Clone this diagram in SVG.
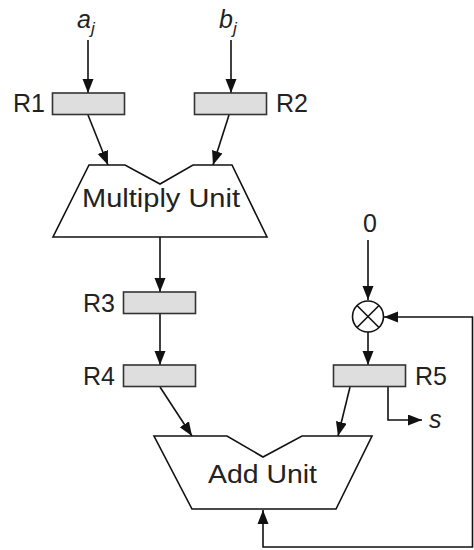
<svg xmlns="http://www.w3.org/2000/svg" width="474" height="550" viewBox="0 0 474 550">
<style>
text{font-family:"Liberation Sans",Arial,sans-serif;fill:#222}
.lbl{font-size:25px}
.reg{fill:#dedede;stroke:#333;stroke-width:1.6}
.unit{fill:#fff;stroke:#111;stroke-width:1.6;stroke-linejoin:miter}
.wire{fill:none;stroke:#111;stroke-width:1.6}
.arr{marker-end:url(#ah)}
.it{font-style:italic}
</style>
<defs>
<marker id="ah" markerUnits="userSpaceOnUse" markerWidth="15" markerHeight="12" refX="14" refY="5.5" orient="auto">
<path d="M0,0 L14,5.5 L0,11 z" fill="#111"/>
</marker>
<marker id="ahs" markerUnits="userSpaceOnUse" markerWidth="15" markerHeight="12" refX="0" refY="5.5" orient="auto">
<path d="M14,0 L0,5.5 L14,11 z" fill="#111"/>
</marker>
</defs>
<g id="connectors">
<line class="wire arr" x1="88" y1="40" x2="88" y2="93"/>
<line class="wire arr" x1="231" y1="40" x2="231" y2="93"/>
<line class="wire arr" x1="88" y1="115" x2="108" y2="165"/>
<line class="wire arr" x1="229" y1="115" x2="213" y2="165"/>
<line class="wire arr" x1="160" y1="237" x2="160" y2="292"/>
<line class="wire arr" x1="160" y1="314" x2="160" y2="365"/>
<line class="wire arr" x1="160" y1="387" x2="192" y2="436"/>
<line class="wire arr" x1="368" y1="240" x2="368" y2="300"/>
<line class="wire arr" x1="368" y1="332" x2="368" y2="365"/>
<line class="wire arr" x1="350" y1="387" x2="338" y2="436"/>
<polyline class="wire arr" points="388,387 388,420 422,420"/>
<polyline class="wire arr" points="263,510 263,547 472.5,547 472.5,317 384,317" style="marker-start:url(#ahs)"/>
</g>
<g id="in_a"><text class="lbl it" x="77" y="28">a<tspan font-size="17" dy="6">j</tspan></text></g>
<g id="in_b"><text class="lbl it" x="219" y="28">b<tspan font-size="17" dy="6">j</tspan></text></g>
<g id="R1"><rect class="reg" x="52.5" y="93" width="72" height="21.5"/><text class="lbl" x="45" y="112" text-anchor="end">R1</text></g>
<g id="R2"><rect class="reg" x="194.5" y="93" width="72" height="21.5"/><text class="lbl" x="276" y="112">R2</text></g>
<g id="mult"><path class="unit" d="M89,165 L125,165 L160,184 L193,165 L232,165 L267,237 L53,237 Z"/><text class="lbl" x="82" y="207" textLength="158" lengthAdjust="spacingAndGlyphs">Multiply Unit</text></g>
<g id="R3"><rect class="reg" x="123.5" y="292" width="72" height="21.5"/><text class="lbl" x="115" y="312" text-anchor="end">R3</text></g>
<g id="R4"><rect class="reg" x="123.5" y="365" width="72" height="21.5"/><text class="lbl" x="115" y="385" text-anchor="end">R4</text></g>
<g id="zero"><text class="lbl" x="370" y="232" text-anchor="middle" font-size="22">0</text></g>
<g id="mux"><circle cx="368" cy="316.5" r="15.5" fill="#fff" stroke="#111" stroke-width="1.6"/><path class="wire" d="M357,305.5 L379,327.5 M379,305.5 L357,327.5"/></g>
<g id="R5"><rect class="reg" x="333.5" y="365" width="72" height="21.5"/><text class="lbl" x="415" y="385">R5</text></g>
<g id="s_out"><text class="lbl it" x="429" y="428" font-size="22">s</text></g>
<g id="add"><path class="unit" d="M154,436 L227,436 L263,457 L302,436 L372,436 L336,509 L192,509 Z"/><text class="lbl" x="208" y="483" textLength="109" lengthAdjust="spacingAndGlyphs">Add Unit</text></g>
</svg>
